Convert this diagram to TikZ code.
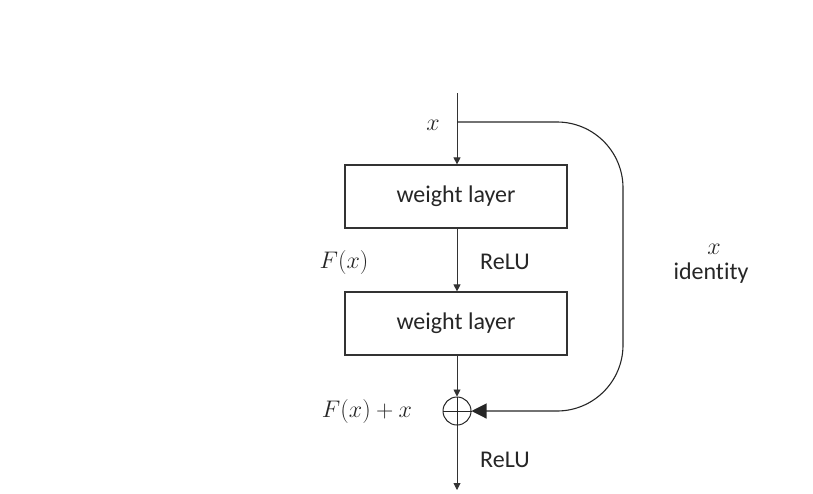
\RequirePackage{fix-cm}
\documentclass[tikz,border=0pt]{standalone}
\usepackage{fontspec}
\setmainfont{Carlito}[Ligatures=NoCommon]
\usetikzlibrary{arrows.meta}
\begin{document}
\begin{tikzpicture}[x=1pt,y=-1pt]
\tikzstyle{every node}=[inner sep=1pt, text=black!85, font=\fontsize{24}{28}\selectfont]
\tikzstyle{layer}=[draw=black!80, line width=1.2pt, minimum width=222pt, minimum height=63pt, inner sep=0pt]
\tikzstyle{flow}=[draw=black!80, line width=0.9pt, -{Triangle[length=7pt,width=7pt]}]
\useasboundingbox (0,0) rectangle (813,493);
\coordinate (in) at (457,93);
\coordinate (split) at (457,122);
\coordinate (turn) at (623,411);
\coordinate (out) at (457,490);
\node (w1) at (456,196.5) [layer] {weight layer};
\node (w2) at (456,323.5) [layer] {weight layer};
\node (add) at (457,411) [circle, draw=black!85, line width=1pt, minimum size=28pt, inner sep=0pt] {};
\draw[black!85, line width=1pt] (add.north) -- (add.south);
\draw[black!85, line width=1pt] (add.west) -- (add.east);
\draw[flow] (in) -- (w1.north -| in);
\draw[flow] (w1.south -| in) -- (w2.north -| in);
\draw[flow] (w2.south -| in) -- (add.north);
\draw[flow] (add.south) -- (out);
\draw[draw=black!85, line width=1.1pt, rounded corners=66pt, -{Triangle[length=15pt,width=15pt]}] (split) -| (turn) -- (add.east);
\node (xin) at (433,125) {$x$};
\node (fx) at (344,262) {$F(x)$};
\node (relu1) at (505,262) {ReLU};
\node (sum) at (367,411) {$F(x)+x$};
\node (relu2) at (505,460) {ReLU};
\node (xid) at (714,249) {$x$};
\node (ident) at (711,273) {identity};
\end{tikzpicture}
\end{document}
